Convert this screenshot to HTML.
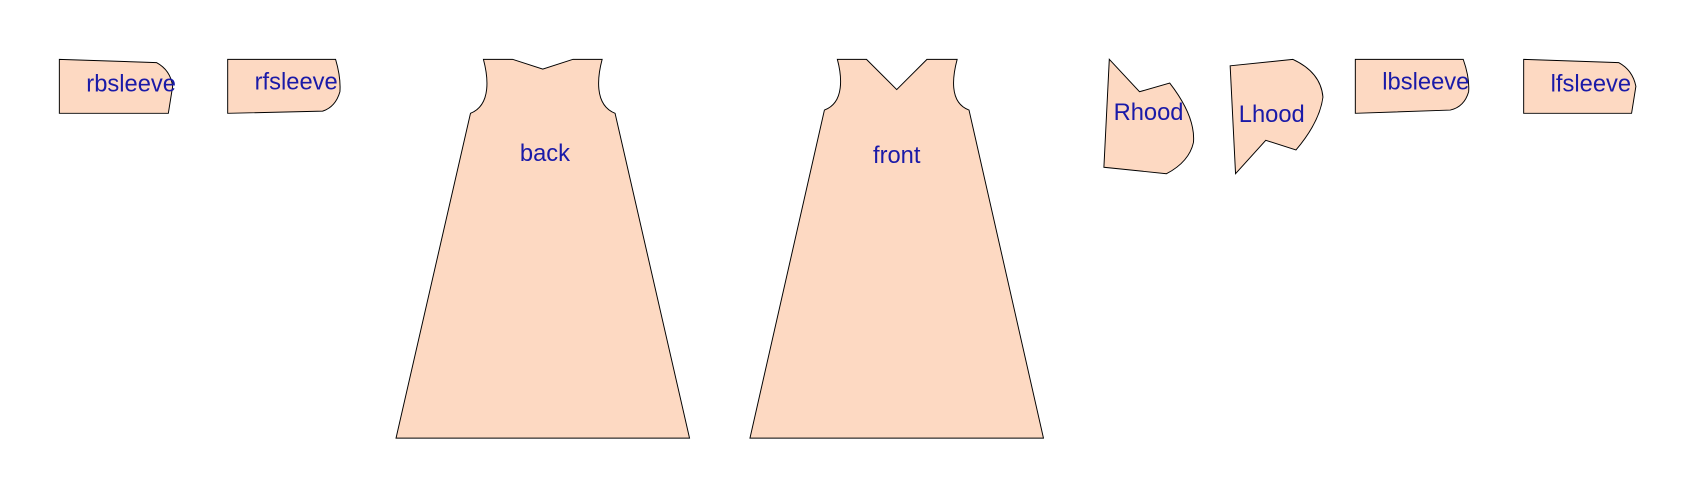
<!DOCTYPE html>
<html><head><meta charset="utf-8"><style>
html,body{margin:0;padding:0;background:#fff;width:1692px;height:498px;overflow:hidden}
svg{display:block}
text{font-family:"Liberation Sans",sans-serif;font-size:22px;fill:#1a1aa8}
path{fill:#fdd9c2;stroke:#000;stroke-width:0.9}
</style></head><body>
<svg width="1692" height="498" viewBox="0 0 1568 461.5" preserveAspectRatio="none">
<g>
<path d="M55,55 L145,58 Q158,65 160,80 L156,105 L55,105 Z"/>
<text x="80" y="85">rbsleeve</text></g>
<g>
<path d="M211,55 L311,55 Q316,72 315,85 Q311,99 299,103 L211,105 Z"/>
<text x="236" y="83">rfsleeve</text></g>
<g>
<path d="M448,55 L475,55 L503,64 L531,55 L558,55 C554,70 550,97 570,105 L639,406 L367,406 L436,105 C456,97 452,70 448,55 Z"/>
<text x="505" y="149" text-anchor="middle">back</text></g>
<g>
<path d="M776,55 L803,55 L831,83 L859,55 L887,55 C883,70 879,95 898,102 L967,406 L695,406 L764,102 C783,95 780,70 776,55 Z"/>
<text x="831" y="151" text-anchor="middle">front</text></g>
<g>
<path d="M1028,55 L1056,85 L1084,77 Q1108,108 1106,132 Q1102,150 1081,161 L1023,155 Z"/>
<text x="1032" y="111">Rhood</text></g>
<g>
<path d="M1140,61 L1198,55 Q1224,67 1226,90 Q1223,113 1201,139 L1173,130 L1145,161 Z"/>
<text x="1148" y="113">Lhood</text></g>
<g>
<path d="M1256,55 L1356,55 Q1362,72 1361,85 Q1357,99 1344,102 L1256,105 Z"/>
<text x="1281" y="83">lbsleeve</text></g>
<g>
<path d="M1412,55 L1500,58 Q1513,65 1516,80 L1512,105 L1412,105 Z"/>
<text x="1437" y="85">lfsleeve</text></g>
</svg>
</body></html>
